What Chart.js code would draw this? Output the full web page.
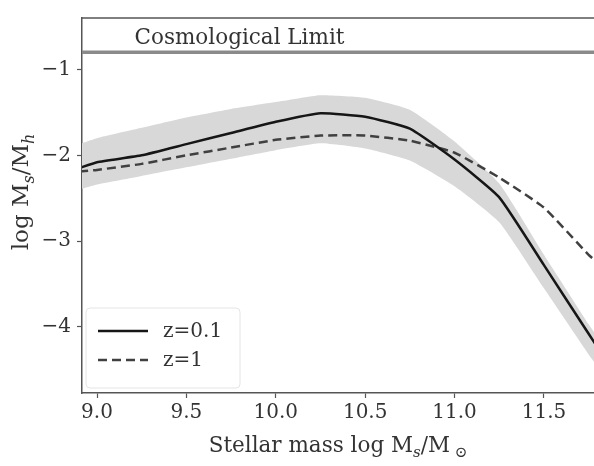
<!DOCTYPE html>
<html>
<head>
<meta charset="utf-8">
<script src="https://cdn.jsdelivr.net/npm/chart.js@4.4.1/dist/chart.umd.min.js"></script>
<style>
  html, body { margin: 0; padding: 0; background: #ffffff; }
  #wrap { width: 594px; height: 466px; }
</style>
</head>
<body>
<div id="wrap"><canvas id="c" width="594" height="466"></canvas></div>
<script>
// ---- data ----
const massGrid   = [8.9, 9.0, 9.25, 9.5, 9.75, 10.0, 10.25, 10.5, 10.75, 11.0, 11.25, 11.5, 11.75, 11.8];
const ratioZ01   = [-2.15, -2.08, -2.00, -1.87, -1.74, -1.61, -1.51, -1.55, -1.69, -2.05, -2.49, -3.28, -4.08, -4.24];
const ratioZ1    = [-2.19, -2.17, -2.10, -2.00, -1.91, -1.82, -1.77, -1.77, -1.83, -1.97, -2.26, -2.61, -3.16, -3.25];
const bandUpper  = [-1.87, -1.80, -1.68, -1.56, -1.46, -1.38, -1.30, -1.33, -1.47, -1.84, -2.33, -3.16, -3.97, -4.12];
const bandLower  = [-2.40, -2.34, -2.24, -2.14, -2.04, -1.94, -1.86, -1.92, -2.06, -2.36, -2.78, -3.55, -4.32, -4.46];
const cosmoLimitX = [8.9, 11.8];
const cosmoLimitY = [-0.80, -0.80];
const cosmoLabel = 'Cosmological Limit';
const xTicks = [9.0, 9.5, 10.0, 10.5, 11.0, 11.5];
const yTicks = [-1, -2, -3, -4];
const seriesLabels = ['z=0.1', 'z=1'];

const FONT = "'DejaVu Serif', serif";
const TXT = '#333333';

function pts(xs, ys) { return xs.map((x, i) => ({ x: x, y: ys[i] })); }

function drawRich(ctx, parts, x, y, size, align) {
  const fontOf = p => (p.italic ? 'italic ' : '') + (p.sub ? Math.round(size * 0.7) : size) + 'px ' + FONT;
  const widths = parts.map(p => { ctx.font = fontOf(p); return ctx.measureText(p.t).width; });
  const total = widths.reduce((a, b) => a + b, 0);
  let cx = align === 'center' ? x - total / 2 : x;
  ctx.textBaseline = 'alphabetic';
  ctx.textAlign = 'left';
  parts.forEach((p, i) => {
    ctx.font = fontOf(p);
    ctx.fillText(p.t, cx, y + (p.sub ? size * 0.25 : 0));
    cx += widths[i];
  });
}

const decorPlugin = {
  id: 'decor',
  afterDatasetsDraw(chart) {
    const ctx = chart.ctx;
    const a = chart.chartArea;
    const xs = chart.scales.x, ys = chart.scales.y;
    ctx.save();
    // top spine
    ctx.strokeStyle = '#555';
    ctx.lineWidth = 1.5;
    ctx.beginPath();
    ctx.moveTo(a.left, a.top);
    ctx.lineTo(a.right, a.top);
    ctx.stroke();
    // cosmological label
    ctx.fillStyle = TXT;
    ctx.font = '21.5px ' + FONT;
    ctx.textAlign = 'left';
    ctx.textBaseline = 'middle';
    ctx.fillText(cosmoLabel, xs.getPixelForValue(9.21), ys.getPixelForValue(-0.64));
    // legend box
    const lx = a.left + 4, ly = ys.getPixelForValue(-3.78);
    const lw = 154, lh = 80;
    ctx.fillStyle = 'rgba(255,255,255,0.85)';
    ctx.strokeStyle = '#e4e4e4';
    ctx.lineWidth = 1;
    ctx.beginPath();
    if (ctx.roundRect) ctx.roundRect(lx, ly, lw, lh, 4); else ctx.rect(lx, ly, lw, lh);
    ctx.fill();
    ctx.stroke();
    const entries = [chart.data.datasets[0], chart.data.datasets[1]];
    entries.forEach((ds, i) => {
      const yy = ly + 23 + i * 29;
      ctx.strokeStyle = ds.borderColor;
      ctx.lineWidth = ds.borderWidth;
      ctx.setLineDash(ds.borderDash || []);
      ctx.beginPath();
      ctx.moveTo(lx + 12, yy);
      ctx.lineTo(lx + 62, yy);
      ctx.stroke();
      ctx.setLineDash([]);
      ctx.fillStyle = TXT;
      ctx.font = '20px ' + FONT;
      ctx.textAlign = 'left';
      ctx.textBaseline = 'middle';
      ctx.fillText(ds.label, lx + 77, yy + 1);
    });
    // axis titles
    ctx.fillStyle = TXT;
    drawRich(ctx, [
      { t: 'Stellar mass log M' }, { t: 's', sub: true, italic: true },
      { t: '/M' }, { t: ' ⊙', sub: true }
    ], (a.left + a.right) / 2, 452, 21.5, 'center');
    ctx.save();
    ctx.translate(28, 192);
    ctx.rotate(-Math.PI / 2);
    drawRich(ctx, [
      { t: 'log M' }, { t: 's', sub: true, italic: true },
      { t: '/M' }, { t: 'h', sub: true, italic: true }
    ], 0, 0, 23, 'center');
    ctx.restore();
    ctx.restore();
  }
};

new Chart(document.getElementById('c'), {
  type: 'line',
  data: {
    datasets: [
      { label: seriesLabels[0], data: pts(massGrid, ratioZ01), borderColor: '#161616', borderWidth: 2.5,
        pointRadius: 0, fill: false, order: 0 },
      { label: seriesLabels[1], data: pts(massGrid, ratioZ1), borderColor: '#404040', borderWidth: 2.5,
        borderDash: [9, 5], pointRadius: 0, fill: false, order: 1 },
      { label: 'cosmo', data: pts(cosmoLimitX, cosmoLimitY), borderColor: '#8a8a8a', borderWidth: 3.5,
        pointRadius: 0, fill: false, order: 2 },
      { label: 'band upper', data: pts(massGrid, bandUpper), borderWidth: 0, pointRadius: 0,
        backgroundColor: '#d8d8d8', fill: '+1', borderColor: 'rgba(0,0,0,0)', order: 5 },
      { label: 'band lower', data: pts(massGrid, bandLower), borderWidth: 0, pointRadius: 0,
        borderColor: 'rgba(0,0,0,0)', fill: false, order: 6 }
    ]
  },
  options: {
    responsive: false,
    animation: false,
    events: [],
    layout: { padding: { top: 7, right: 0, left: 0, bottom: 0 } },
    plugins: { legend: { display: false }, tooltip: { enabled: false } },
    elements: { line: { tension: 0.15 } },
    scales: {
      x: {
        type: 'linear', min: 8.916, max: 11.78,
        afterFit(s) { s.height = 73; },
        afterBuildTicks(s) { s.ticks = xTicks.map(v => ({ value: v })); },
        grid: { display: true, drawOnChartArea: false, drawTicks: true, tickLength: 5, color: '#555', tickWidth: 1.2 },
        border: { display: true, color: '#555', width: 1.5 },
        ticks: { color: TXT, font: { family: FONT, size: 20 }, padding: 3, maxRotation: 0,
                 callback: v => v.toFixed(1) }
      },
      y: {
        type: 'linear', min: -4.77, max: -0.40,
        afterFit(s) { s.width = 82; },
        afterBuildTicks(s) { s.ticks = yTicks.map(v => ({ value: v })); },
        grid: { display: true, drawOnChartArea: false, drawTicks: true, tickLength: 5, color: '#555', tickWidth: 1.2 },
        border: { display: true, color: '#555', width: 1.5 },
        ticks: { color: TXT, font: { family: FONT, size: 20 }, padding: 6,
                 callback: v => '\u2212' + Math.abs(v) }
      }
    }
  },
  plugins: [decorPlugin]
});
</script>
</body>
</html>
